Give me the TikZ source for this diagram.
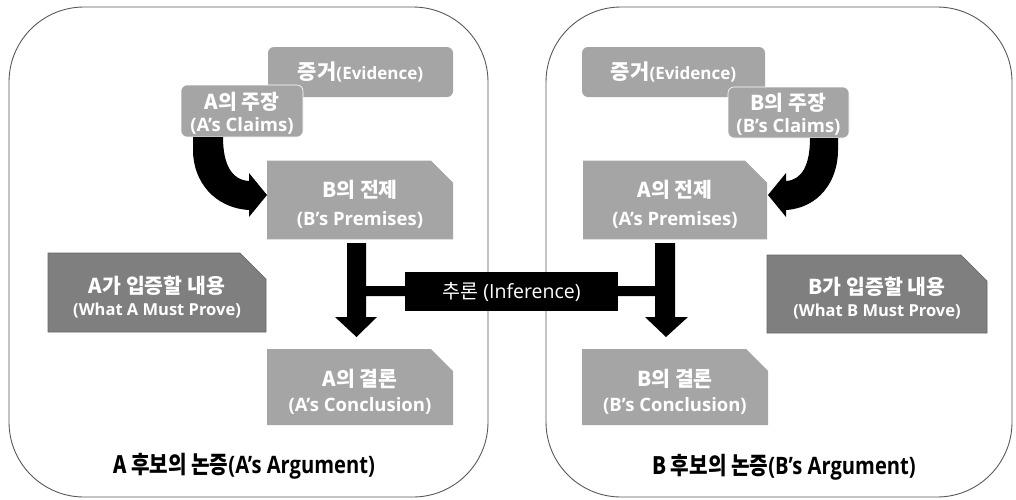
\documentclass[tikz,border=0pt]{standalone}
\usepackage{fontspec}
\setmainfont{Open Sans}
\newfontfamily\kr{Noto Sans CJK KR}
\usetikzlibrary{shapes.misc}
\definecolor{lgray}{HTML}{A5A5A5}
\definecolor{dgray}{HTML}{7F7F7F}
\definecolor{framec}{HTML}{595959}
\newcommand\K[2][26pt]{\rule{0pt}{#1}{\kr\fontsize{20.5}{20}\selectfont #2}}
\begin{document}
\begin{tikzpicture}[x=1pt,y=-1pt,
  panel/.style={draw=framec, line width=0.9pt, rounded corners=75pt, inner sep=0pt},
  rbox/.style={fill=lgray, text=white, rounded corners=6pt, inner sep=0pt, align=center,
    font=\bfseries\fontsize{17}{22}\selectfont},
  cbox/.style={chamfered rectangle, chamfered rectangle corners=north east,
    chamfered rectangle xsep=11pt, chamfered rectangle ysep=11pt,
    fill=lgray, text=white, inner sep=0pt, align=center},
  dbox/.style={cbox, fill=dgray, draw=dgray!80!black, line width=0.6pt,
    chamfered rectangle xsep=13pt, chamfered rectangle ysep=13pt,
    font=\bfseries\fontsize{16.5}{22}\selectfont},
  blk/.style={fill=black},
  title/.style={font=\bfseries\fontsize{24}{26}\selectfont, text=black}
]
\useasboundingbox (0,0) rectangle (1016,499);

% panels
\node[panel, minimum width=479pt, minimum height=490pt] (panelL) at (248.5,252) {};
\node[panel, minimum width=466pt, minimum height=490pt] (panelR) at (779,252) {};

% left side
\node[rbox, minimum width=185pt, minimum height=50pt] (evidL) at (360.5,72)
  {{\kr\fontsize{21}{22}\selectfont 증거}(Evidence)};
\node[rbox, draw=white, line width=0.6pt, minimum width=122pt, minimum height=52pt,
  font=\bfseries\fontsize{18.5}{22}\selectfont] (claimL) at (242,111)
  {\K[21pt]{A의 주장}\\(A’s Claims)};
\node[cbox, minimum width=186pt, minimum height=76pt,
  font=\bfseries\fontsize{18.5}{28}\selectfont] (premL) at (360,200)
  {\K{B의 전제}\\(B’s Premises)};
\node[cbox, minimum width=186pt, minimum height=76pt,
  font=\bfseries\fontsize{18.5}{25}\selectfont] (concL) at (360,387)
  {\K{A의 결론}\\(A’s Conclusion)};
\node[dbox, minimum width=218pt, minimum height=79pt] (proveL) at (157,292.5)
  {\K{A가 입증할 내용}\\(What A Must Prove)};

% right side
\node[rbox, minimum width=183pt, minimum height=50pt] (evidR) at (673.5,72)
  {{\kr\fontsize{21}{22}\selectfont 증거}(Evidence)};
\node[rbox, draw=white, line width=0.6pt, minimum width=121pt, minimum height=51pt,
  font=\bfseries\fontsize{18.5}{22}\selectfont] (claimR) at (788.5,112.5)
  {\K[21pt]{B의 주장}\\(B’s Claims)};
\node[cbox, minimum width=184pt, minimum height=76pt,
  font=\bfseries\fontsize{18.5}{28}\selectfont] (premR) at (675,200)
  {\K{A의 전제}\\(A’s Premises)};
\node[cbox, minimum width=186pt, minimum height=76pt,
  font=\bfseries\fontsize{18.5}{25}\selectfont] (concR) at (675,387)
  {\K{B의 결론}\\(B’s Conclusion)};
\node[dbox, minimum width=220pt, minimum height=78pt] (proveR) at (877,294)
  {\K{B가 입증할 내용}\\(What B Must Prove)};

% inference
\node[fill=black, text=white, minimum width=213pt, minimum height=39pt, inner sep=0pt,
  font=\fontsize{19.5}{20}\selectfont] (infer) at (511.5,291.5) {{\kr 추론} (Inference)};

% curved arrows
\fill[blk] (193,137) -- (223,137) .. controls (223,165) and (232,180) .. (249,181)
  -- (249,173) -- (267,195) -- (249,217) -- (249,210)
  .. controls (215,208) and (193,182) .. (193,150) -- cycle;
\fill[blk] (838,138) -- (810,138) .. controls (810,165) and (802,180) .. (786,181)
  -- (786,173) -- (768,195) -- (786,217) -- (786,210)
  .. controls (818,208) and (838,182) .. (838,150) -- cycle;

% down arrows with bars to inference
\fill[blk] (347,243) -- (366,243) -- (366,286) -- (infer.west |- 0,286) -- (infer.west |- 0,296)
  -- (366,296) -- (366,317) -- (377,317) -- (356.5,337) -- (335,317) -- (347,317) -- cycle;
\fill[blk] (655,243) -- (675,243) -- (675,317) -- (688,317) -- (666,337) -- (645,317)
  -- (655,317) -- (655,296) -- (infer.east |- 0,296) -- (infer.east |- 0,286) -- (655,286) -- cycle;

% titles
\node[title] (titleL) at (244,466) {\scalebox{0.84}[1]{{\kr A 후보의 논증}(A’s Argument)}};
\node[title] (titleR) at (784,467) {\scalebox{0.84}[1]{{\kr B 후보의 논증}(B’s Argument)}};
\end{tikzpicture}
\end{document}
